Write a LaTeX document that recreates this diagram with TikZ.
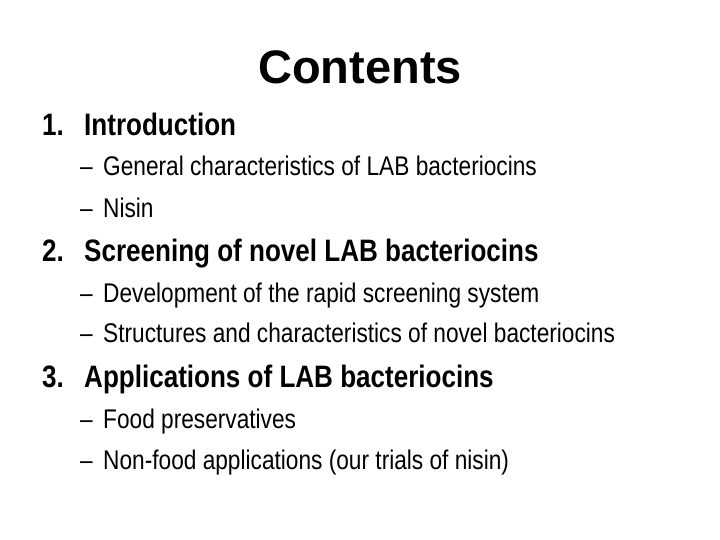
\documentclass[tikz,border=0pt]{standalone}
\usepackage{fontspec}
\setmainfont{Liberation Sans}
\newfontfamily\narrowf[FakeStretch=0.84]{Liberation Sans}
\begin{document}
\begin{tikzpicture}[x=1pt,y=-1pt,
  head/.style={anchor=base west,inner sep=0pt,font=\narrowf\bfseries\fontsize{31}{33}\selectfont},
  sub/.style={anchor=base west,inner sep=0pt,font=\narrowf\fontsize{27}{29}\selectfont}]
\useasboundingbox[fill=white] (0,0) rectangle (720,540);
\node[anchor=base,inner sep=0pt,font=\bfseries\fontsize{47}{50}\selectfont] (title) at (360,84) {Contents};
\node[head] (n1) at (42,136) {1.};
\node[head] (h1) at (84,136) {Introduction};
\node[sub] (d11) at (80,176) {–};
\node[sub] (s11) at (103,176) {General characteristics of LAB bacteriocins};
\node[sub] (d12) at (80,218) {–};
\node[sub] (s12) at (103,218) {Nisin};
\node[head] (n2) at (42,261) {2.};
\node[head] (h2) at (84,261) {Screening of novel LAB bacteriocins};
\node[sub] (d21) at (80,302) {–};
\node[sub] (s21) at (103,302) {Development of the rapid screening system};
\node[sub] (d22) at (80,342) {–};
\node[sub] (s22) at (103,342) {Structures and characteristics of novel bacteriocins};
\node[head] (n3) at (42,387) {3.};
\node[head] (h3) at (84,387) {Applications of LAB bacteriocins};
\node[sub] (d31) at (80,428) {–};
\node[sub] (s31) at (103,428) {Food preservatives};
\node[sub] (d32) at (80,469) {–};
\node[sub] (s32) at (103,469) {Non-food applications (our trials of nisin)};
\end{tikzpicture}
\end{document}
